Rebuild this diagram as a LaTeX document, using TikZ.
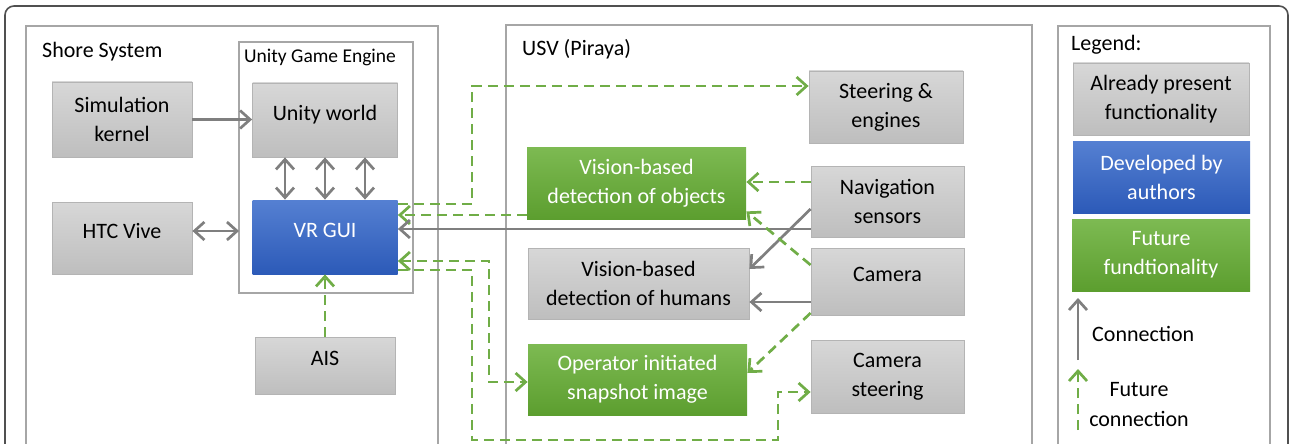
\documentclass[tikz,border=0pt]{standalone}
\usepackage{fontspec}
\setmainfont{Carlito}
\usepackage{tikz}
\usetikzlibrary{arrows.meta}
\usetikzlibrary{calc}

\definecolor{grayT}{HTML}{D7D7D7}
\definecolor{grayB}{HTML}{BEBEBE}
\definecolor{boxline}{HTML}{B4B4B4}
\definecolor{blueT}{HTML}{5580D2}
\definecolor{blueB}{HTML}{2C5AB8}
\definecolor{greenT}{HTML}{7DBA52}
\definecolor{greenB}{HTML}{5C9E2F}
\definecolor{futgreen}{HTML}{70AD47}
\definecolor{conngray}{HTML}{7F7F7F}
\definecolor{panelgray}{HTML}{A6A6A6}
\definecolor{outergray}{HTML}{505050}

\tikzset{>={Straight Barb[length=10pt,width=18pt]}}
\tikzset{
    txt/.style={font=\fontsize{22}{29}\selectfont},
    box/.style={draw=boxline, line width=0.8pt, top color=grayT, bottom color=grayB,
        inner sep=0pt, align=center, txt},
    bluebox/.style={box, draw=none, top color=blueT, bottom color=blueB, text=white},
    greenbox/.style={box, draw=none, top color=greenT, bottom color=greenB, text=white},
    oneline/.style={text height=15pt, text depth=15pt},
    conn/.style={draw=conngray, line width=2.7pt, ->},
    fconn/.style={draw=futgreen, line width=2.7pt, dash pattern=on 10pt off 6pt, ->},
    panel/.style={draw=panelgray, line width=2pt},
}

\begin{document}
\begin{tikzpicture}[x=1pt,y=-1pt]
    \useasboundingbox (0,0) rectangle (1291,444);
    \clip (0,0) rectangle (1291,444);

    % frames
    \draw[draw=outergray, line width=1.6pt, rounded corners=9pt] (5,6) rectangle (1288,490);
    \draw[panel] (26,26) rectangle (438,480);
    \draw[panel] (239,42) rectangle (413,293);
    \draw[panel] (506,25) rectangle (1032,480);
    \draw[panel] (1058,26) rectangle (1270,480);

    \node[txt, anchor=base west, inner sep=0pt] (lshore) at (42,58) {Shore System};
    \node[font=\fontsize{19.5}{24}\selectfont, anchor=base west, inner sep=0pt] (lengine) at (244,63) {Unity Game Engine};
    \node[txt, anchor=base west, inner sep=0pt] (lusv) at (522,56) {USV (Piraya)};
    \node[txt, anchor=base west, inner sep=0pt] (llegend) at (1071,51) {Legend:};

    % shore system
    \node[box, minimum width=140pt, minimum height=75pt] (sim) at (122,119.5) {Simulation\\kernel};
    \node[box, oneline, minimum width=145pt, minimum height=74pt] (unity) at (325,120) {Unity world};
    \node[box, oneline, minimum width=140pt, minimum height=72pt] (htc) at (122,238) {HTC Vive};
    \node[bluebox, oneline, minimum width=145pt, minimum height=74pt] (vrgui) at (325,237) {VR GUI};
    \node[box, oneline, minimum width=140pt, minimum height=57pt] (ais) at (325,365.5) {AIS};

    % USV
    \node[box, minimum width=154pt, minimum height=72pt] (steer) at (886,107) {Steering \&\\engines};
    \node[box, minimum width=153pt, minimum height=71pt] (nav) at (887.5,201.5) {Navigation\\sensors};
    \node[box, oneline, minimum width=153pt, minimum height=67pt] (cam) at (887.5,281.5) {Camera};
    \node[box, minimum width=153pt, minimum height=73pt] (camst) at (887.5,376.5) {Camera\\steering};
    \node[greenbox, minimum width=219pt, minimum height=72pt] (visobj) at (636.5,183) {Vision-based\\detection of objects};
    \node[box, minimum width=221pt, minimum height=71pt] (vishum) at (638.5,283.5) {Vision-based\\detection of humans};
    \node[greenbox, minimum width=219pt, minimum height=71pt] (snap) at (637.5,379.5) {Operator initiated\\snapshot image};

    % legend
    \node[box, minimum width=176pt, minimum height=72pt] (legA) at (1161,99) {Already present\\functionality};
    \node[bluebox, minimum width=177pt, minimum height=72pt] (legB) at (1161.5,177) {Developed by\\authors};
    \node[greenbox, minimum width=178pt, minimum height=72pt] (legC) at (1161,255) {Future\\fundtionality};
    \node[txt, anchor=base west, inner sep=0pt] (lconn) at (1092,341) {Connection};
    \node[font=\fontsize{22}{30}\selectfont, align=center, inner sep=0pt] (lfut) at (1139,405) {Future\\connection};

    % connections in the shore system
    \coordinate (engW) at (239,231);
    \draw[conn] (sim.east) -- (sim.east -| unity.west);
    \foreach \dx in {-40,0,40}
        \draw[conn,<->] ([xshift=\dx pt]unity.south) -- ([xshift=\dx pt]vrgui.north);
    \draw[conn,<->] ([yshift=7pt]htc.east) -- (engW);
    \draw[fconn] (ais.north) -- (vrgui.south);

    % connections to the USV
    \coordinate (bendA) at (472,86);
    \coordinate (bendB) at (489,382);
    \coordinate (bendC) at (472,440);
    \coordinate (bendD) at (778,440);
    \coordinate (navA) at ([yshift=19.5pt]nav.west);
    \coordinate (navB) at ([yshift=-27.5pt]nav.west);
    \coordinate (navC) at ([yshift=-7.5pt]nav.west);
    \coordinate (camA) at ([yshift=16.5pt]cam.west);
    \coordinate (camB) at ([yshift=-20.5pt]cam.west);
    \coordinate (camC) at ([yshift=-31.5pt]cam.west);
    \coordinate (objA) at ([yshift=-32pt]visobj.west);

    \draw[fconn] ([yshift=33pt]vrgui.east) -| (bendA) -- ([yshift=21pt]steer.west);
    \draw[fconn] (objA) -- (objA -| vrgui.east);
    \draw[conn] (navB) -- (navB -| vrgui.east);
    \draw[fconn] (navA) -- (navA -| visobj.east);
    \draw[conn] (navC) -- ([yshift=14.5pt]vishum.east);
    \draw[fconn] (camA) -- ([yshift=8pt]visobj.south east);
    \draw[conn] (camB) -- (camB -| vishum.east);
    \draw[fconn] (camC) -- ([yshift=6.5pt]snap.east);
    \draw[fconn,<->] ([yshift=-24pt]vrgui.east) -| (bendB) -- ([yshift=-2.5pt]snap.west);
    \draw[fconn] ([yshift=-33pt]vrgui.east) -| (bendC) -- (bendD) |- ([yshift=-15.5pt]camst.west);

    % legend arrows
    \coordinate (lgA1) at (1078,360);
    \coordinate (lgA2) at (1078,298);
    \coordinate (lgB1) at (1078,430);
    \coordinate (lgB2) at (1078,369);
    \draw[conn] (lgA1) -- (lgA2);
    \draw[fconn] (lgB1) -- (lgB2);
\end{tikzpicture}
\end{document}
